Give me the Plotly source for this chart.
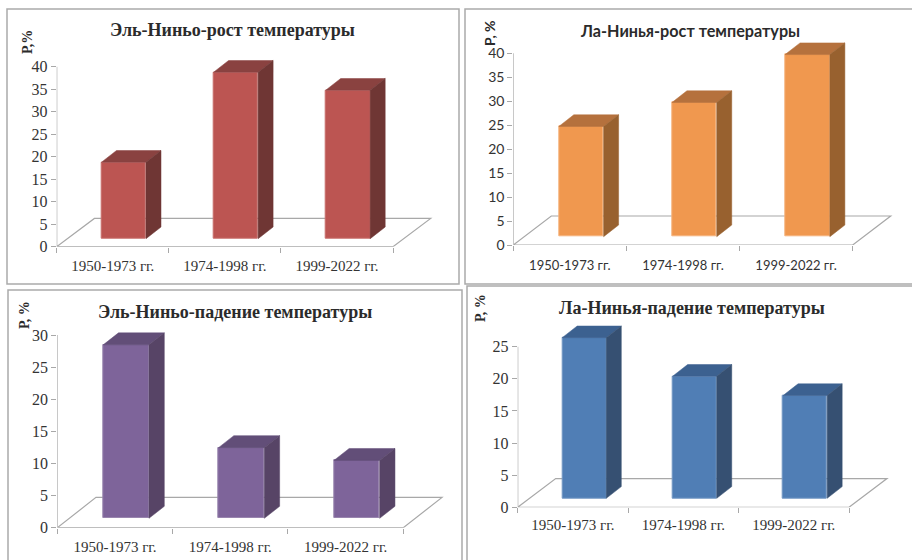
import plotly.graph_objects as go

categories = ["1950-1973 гг.", "1974-1998 гг.", "1999-2022 гг."]
titles = ["Эль-Ниньо-рост температуры", "Ла-Нинья-рост температуры",
          "Эль-Ниньо-падение температуры", "Ла-Нинья-падение температуры"]
el_nino_rise = [17, 37, 33]
la_nina_rise = [23, 28, 38]
el_nino_fall = [27, 11, 9]
la_nina_fall = [25, 19, 16]
y_maxes = [40, 40, 30, 25]

W, H = 912, 560
GREY = "#a8a8a8"
SERIF = "Liberation Serif"
SANS = "Lato"
PAD_X, PAD_Y = 50.0, 30.0   # spare room in px so the 3D faces are not clipped by the subplot

panels = [
    dict(vals=el_nino_rise, ymax=y_maxes[0], x0=56.7, x1=393.0, y0=246.7, yt=66.7, bar0=101.5, barw=44.5, base=238.7,
         sx=15.0, sy=11.7, fx=37.7, fy=28.3, front="#BC5552", top="#8A4240", side="#6F3634", edge="#C96F6C",
         font=SERIF, tick=16, title=dict(x=232.7, y=30, size=18), ylab=dict(x=28, y=42, text="Р,%"), lab=15, standoff=8),
    dict(vals=la_nina_rise, ymax=y_maxes[1], x0=513.3, x1=852.7, y0=245.0, yt=53.3, bar0=558.8, barw=44.8, base=236.7,
         sx=15.0, sy=11.7, fx=38.0, fy=29.0, front="#F0984F", top="#B5713D", side="#98612F", edge="#F5B27C",
         font=SANS, tick=14, title=dict(x=690, y=30, size=16.2), ylab=dict(x=489, y=33, text="Р, %"), lab=13, standoff=11),
    dict(vals=el_nino_fall, ymax=y_maxes[2], x0=57.3, x1=403.3, y0=527.7, yt=335.0, bar0=103.2, barw=45.8, base=518.3,
         sx=15.3, sy=12.0, fx=38.7, fy=30.3, front="#7E649A", top="#624E78", side="#574466", edge="#9985AE",
         font=SERIF, tick=16, title=dict(x=235, y=311.7, size=18), ylab=dict(x=24, y=315, text="Р, %"), lab=15, standoff=8),
    dict(vals=la_nina_fall, ymax=y_maxes[3], x0=517.7, x1=849.0, y0=507.3, yt=346.7, bar0=562.2, barw=44.1, base=498.3,
         sx=15.0, sy=11.7, fx=38.0, fy=28.7, front="#507EB5", top="#3C6190", side="#365072", edge="#7397C4",
         font=SERIF, tick=16, title=dict(x=691.7, y=308, size=18), ylab=dict(x=480, y=308, text="Р, %"), lab=15, standoff=7),
]
frames = [(7, 9, 459, 284), (465, 9, 916, 284), (8, 290, 462, 566), (467, 286, 916, 566)]

fig = go.Figure()
shapes, annotations = [], []

for i, p in enumerate(panels, start=1):
    xa, ya = ("x", "y") if i == 1 else (f"x{i}", f"y{i}")
    ux = (p["x1"] - p["x0"]) / 3            # px per category
    uy = (p["y0"] - p["yt"]) / p["ymax"]    # px per value unit
    off = (p["bar0"] - p["x0"]) / ux
    bw = p["barw"] / ux
    base = (p["y0"] - p["base"]) / uy
    sx, sy = p["sx"] / ux, p["sy"] / uy
    fx, fy = p["fx"] / ux, p["fy"] / uy

    axis_x = dict(domain=[p["x0"] / W, (p["x1"] + PAD_X) / W], range=[0, 3 + PAD_X / ux], anchor=ya, automargin=False,
                  tickvals=[0.5, 1.5, 2.5], ticktext=categories, ticks="", showgrid=False, zeroline=False, showline=False,
                  minor=dict(tickvals=[0, 1, 2, 3], ticks="outside", ticklen=5, tickcolor=GREY, tickwidth=1, showgrid=False),
                  tickfont=dict(family=p["font"], size=p["lab"], color="#333333"), ticklabelstandoff=p["standoff"])
    axis_y = dict(domain=[1 - p["y0"] / H, 1 - (p["yt"] - PAD_Y) / H], range=[0, p["ymax"] + PAD_Y / uy], anchor=xa,
                  automargin=False, tickvals=list(range(0, p["ymax"] + 1, 5)), ticks="outside", ticklen=5,
                  tickcolor=GREY, tickwidth=1, showgrid=False, zeroline=False, showline=False,
                  tickfont=dict(family=p["font"], size=p["tick"], color="#333333"))
    fig.update_layout({("xaxis" if i == 1 else f"xaxis{i}"): axis_x, ("yaxis" if i == 1 else f"yaxis{i}"): axis_y})

    # floor outline and the two axis lines, behind the bars
    shapes.append(dict(type="path", xref=xa, yref=ya, layer="below", line=dict(color=GREY, width=1.2),
                       path=f"M 0 {p['ymax']} L 0 0 L 3 0 M 0 0 L {fx} {fy} L {3 + fx} {fy} L 3 0"))

    xs = [k + off for k in range(3)]
    fig.add_trace(go.Bar(x=[x + bw / 2 for x in xs], y=p["vals"], base=base, width=bw, xaxis=xa, yaxis=ya,
                         marker=dict(color=p["front"], line=dict(color=p["edge"], width=1)),
                         showlegend=False))
    for x, v in zip(xs, p["vals"]):
        t = base + v
        fig.add_trace(go.Scatter(x=[x, x + bw, x + bw + sx, x + sx, x], y=[t, t, t + sy, t + sy, t],
                                 fill="toself", fillcolor=p["top"], mode="lines", line=dict(color=p["top"], width=0.5),
                                 xaxis=xa, yaxis=ya, showlegend=False, hoverinfo="skip"))
        fig.add_trace(go.Scatter(x=[x + bw, x + bw + sx, x + bw + sx, x + bw, x + bw],
                                 y=[base, base + sy, t + sy, t, base],
                                 fill="toself", fillcolor=p["side"], mode="lines", line=dict(color=p["side"], width=0.5),
                                 xaxis=xa, yaxis=ya, showlegend=False, hoverinfo="skip"))

    annotations.append(dict(text=f"<b>{titles[i - 1]}</b>", xref="paper", yref="paper", x=p["title"]["x"] / W,
                            y=1 - p["title"]["y"] / H, showarrow=False, xanchor="center", yanchor="middle",
                            font=dict(family=p["font"], size=p["title"]["size"], color="#2b2b2b")))
    annotations.append(dict(text=f"<b>{p['ylab']['text']}</b>", xref="paper", yref="paper", x=p["ylab"]["x"] / W,
                            y=1 - p["ylab"]["y"] / H, showarrow=False, textangle=-90, xanchor="center", yanchor="middle",
                            font=dict(family=p["font"], size=14, color="#2b2b2b")))

for (a, b, c, d) in frames:
    shapes.append(dict(type="rect", xref="paper", yref="paper", x0=a / W, x1=c / W, y0=1 - d / H, y1=1 - b / H,
                       line=dict(color="#ababab", width=1.5), layer="below"))

fig.update_layout(width=W, height=H, margin=dict(l=0, r=0, t=0, b=0), paper_bgcolor="white", plot_bgcolor="rgba(0,0,0,0)",
                  shapes=shapes, annotations=annotations, showlegend=False, bargap=0)
fig.write_html("out.html", config={"displayModeBar": False},
               post_script="document.body.style.margin='0';document.body.style.overflow='hidden';window.dispatchEvent(new Event('resize'));")
